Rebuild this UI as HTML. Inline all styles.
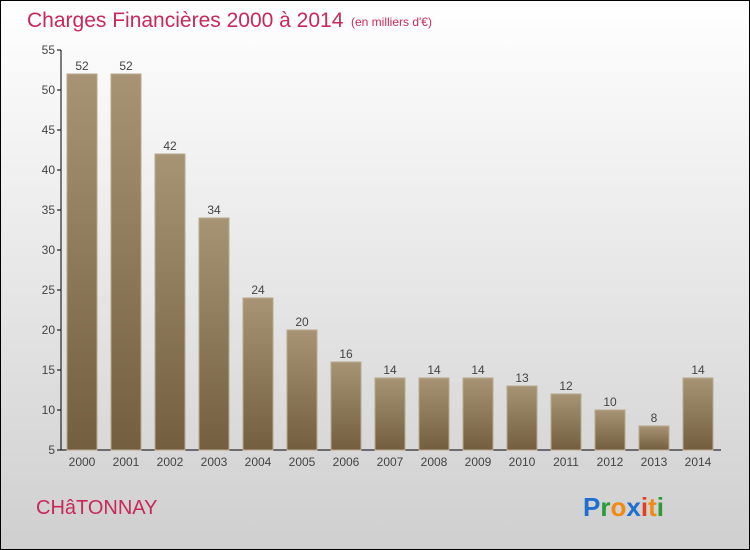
<!DOCTYPE html>
<html><head><meta charset="utf-8"><style>
body{margin:0}
#c{width:750px;height:550px;position:relative;box-sizing:border-box;border:1px solid #000;background:linear-gradient(#fff,#cfcfcf);font-family:"Liberation Sans",sans-serif;overflow:hidden}
</style></head><body>
<div id="c">
<svg width="748" height="548" viewBox="1 1 748 548" style="position:absolute;left:0;top:0" id="svg">
<defs><linearGradient id="g" x1="0" y1="0" x2="0" y2="1"><stop offset="0" stop-color="#a69474"/><stop offset="1" stop-color="#735f40"/></linearGradient></defs>
<text x="27" y="27" font-size="21" fill="#c8285a">Charges Financières 2000 à 2014</text>
<text x="351" y="26" font-size="12" fill="#c8285a">(en milliers d'€)</text>
<text x="36" y="514" font-size="20" fill="#c8285a">CHâTONNAY</text>
<text x="583" y="516" font-size="26" font-weight="bold"><tspan fill="#1e6fd0">P</tspan><tspan fill="#2a9a3a">r</tspan><tspan fill="#f08a10">o</tspan><tspan fill="#1e6fd0">x</tspan><tspan fill="#e04020">i</tspan><tspan fill="#f08a10">t</tspan><tspan fill="#2a9a3a">i</tspan></text>
<g id="plot"></g>
</svg>
</div>
<script>
const categories=["2000","2001","2002","2003","2004","2005","2006","2007","2008","2009","2010","2011","2012","2013","2014"];
const values=[52,52,42,34,24,20,16,14,14,14,13,12,10,8,14];
const yTicks=[5,10,15,20,25,30,35,40,45,50,55];
const NS="http://www.w3.org/2000/svg";
const g=document.getElementById('plot');
const y=v=>450-(v-5)*8;
const x=i=>82+i*44;
function mk(t,a){const e=document.createElementNS(NS,t);for(const k in a)e.setAttribute(k,a[k]);g.appendChild(e);return e;}
let ax=mk('line',{x1:61,y1:50,x2:61,y2:450,stroke:'#000'});


let bx=mk('line',{x1:61,y1:450,x2:721,y2:450,stroke:'#000'});


yTicks.forEach(v=>{
 let l=mk('line',{x1:57,y1:y(v),x2:61,y2:y(v),stroke:'#000'});
 
 
 let t=mk('text',{x:55,y:y(v)+4,'font-size':12,'text-anchor':'end',fill:'#444'});t.textContent=v;
 
 
});
categories.forEach((c,i)=>{
 let r=mk('rect',{x:x(i)-15,y:y(values[i]),width:30,height:450-y(values[i]),fill:'url(#g)',stroke:'#b8a98c','stroke-width':1});
 
 
 let v=mk('text',{x:x(i),y:y(values[i])-4,'font-size':12,'text-anchor':'middle',fill:'#444'});v.textContent=values[i];
 
 
 let t=mk('text',{x:x(i),y:466,'font-size':12,'text-anchor':'middle',fill:'#444'});t.textContent=c;
 
 
});
</script>
</body></html>
